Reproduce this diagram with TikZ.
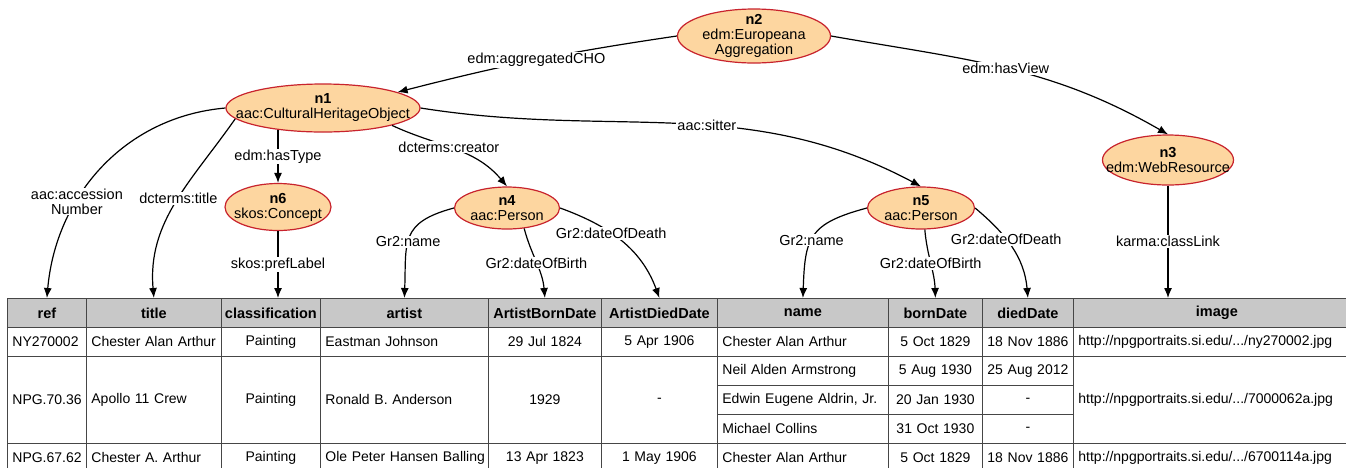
\documentclass[tikz,border=0pt]{standalone}
\usepackage{fontspec}
\setmainfont{Liberation Sans}
\usetikzlibrary{arrows.meta,shapes.geometric}

\definecolor{entfill}{RGB}{253,214,160}
\definecolor{entline}{RGB}{200,35,45}
\definecolor{headfill}{RGB}{200,200,200}
\definecolor{gridline}{RGB}{70,70,70}

\begin{document}
\begin{tikzpicture}[x=1pt, y=-1pt, font=\fontsize{14.5}{15}\selectfont,
	ent/.style={ellipse, draw=entline, fill=entfill, line width=1.2pt, align=center, inner xsep=-40pt, inner ysep=-12pt},
	link/.style={-{Latex[length=10pt,width=8pt]}, line width=1.2pt},
	lbl/.style={fill=white, inner sep=1pt, align=center},
	cell/.style={draw=gridline, line width=0.8pt, inner xsep=5pt, inner ysep=0pt, anchor=north west, font=\fontsize{14}{15}\selectfont},
	head/.style={cell, fill=headfill, inner xsep=1pt, font=\fontsize{14.5}{15}\selectfont\bfseries}]
	\useasboundingbox (0,0) rectangle (1346,467);
	\clip (0,0) rectangle (1346,467);

	% classes
	\node[ent, minimum width=194pt, minimum height=48pt] (n1) at (323,108) {\textbf{n1}\\aac:CulturalHeritageObject};
	\node[ent, minimum width=153pt, minimum height=54pt] (n2) at (754,36) {\textbf{n2}\\edm:Europeana\\Aggregation};
	\node[ent, minimum width=131pt, minimum height=50pt] (n3) at (1168,160) {\textbf{n3}\\edm:WebResource};
	\node[ent, minimum width=105pt, minimum height=42pt] (n4) at (507,208) {\textbf{n4}\\aac:Person};
	\node[ent, minimum width=107pt, minimum height=42pt] (n5) at (921,208) {\textbf{n5}\\aac:Person};
	\node[ent, minimum width=106pt, minimum height=47pt] (n6) at (278,207) {\textbf{n6}\\skos:Concept};

	% table header
	\foreach \n/\l/\r/\t in {ref/7/86/ref, title/86/221/title, class/221/320/classification, artist/320/488/artist, abd/488/601/ArtistBornDate, add/601/717/ArtistDiedDate, name/717/888/name, born/888/982/bornDate, died/982/1073/diedDate, image/1073/1360/image}
	{
		\pgfmathsetmacro\w{\r-\l}
		\node[head, minimum width=\w pt, minimum height=29pt] (h-\n) at (\l,298) {\t};
	}

	% table rows
	\foreach \l/\r/\t/\b/\a/\s in {
		7/86/327/356/left/NY270002, 86/221/327/356/left/Chester Alan Arthur, 221/320/327/356/center/Painting,
		320/488/327/356/left/Eastman Johnson, 488/601/327/356/center/29 Jul 1824, 601/717/327/356/center/5 Apr 1906,
		717/888/327/356/left/Chester Alan Arthur, 888/982/327/356/center/5 Oct 1829, 982/1073/327/356/center/18 Nov 1886,
		1073/1360/327/356/left/{http://npgportraits.si.edu/.../ny270002.jpg},
		7/86/356/443/left/NPG.70.36, 86/221/356/443/left/Apollo 11 Crew, 221/320/356/443/center/Painting,
		320/488/356/443/left/Ronald B. Anderson, 488/601/356/443/center/1929, 601/717/356/443/center/-,
		717/888/356/385/left/Neil Alden Armstrong, 888/982/356/385/center/5 Aug 1930, 982/1073/356/385/center/25 Aug 2012,
		717/888/385/414/left/{Edwin Eugene Aldrin, Jr.}, 888/982/385/414/center/20 Jan 1930, 982/1073/385/414/center/-,
		717/888/414/443/left/Michael Collins, 888/982/414/443/center/31 Oct 1930, 982/1073/414/443/center/-,
		1073/1360/356/443/left/{http://npgportraits.si.edu/.../7000062a.jpg},
		7/86/443/472/left/NPG.67.62, 86/221/443/472/left/Chester A. Arthur, 221/320/443/472/center/Painting,
		320/488/443/472/left/Ole Peter Hansen Balling, 488/601/443/472/center/13 Apr 1823, 601/717/443/472/center/1 May 1906,
		717/888/443/472/left/Chester Alan Arthur, 888/982/443/472/center/5 Oct 1829, 982/1073/443/472/center/18 Nov 1886,
		1073/1360/443/472/left/{http://npgportraits.si.edu/.../6700114a.jpg}}
	{
		\pgfmathsetmacro\w{\r-\l}
		\pgfmathsetmacro\h{\b-\t}
		\pgfmathsetmacro\tw{\r-\l-10}
		\node[cell, minimum width=\w pt, minimum height=\h pt, text width=\tw pt, align/.expanded=\a] (c-\l-\t) at (\l,\t) {\mbox{\s}};
	}

	% links between classes
	\draw[link] (n2.west) to[bend right=3] node[lbl] {edm:aggregatedCHO} (n1.12);
	\draw[link] (n2.east) to[out=-10, in=150] node[lbl] {edm:hasView} (n3.north);
	\draw[link] (n1.east) to[out=-9, in=152] node[lbl, pos=0.56] {aac:sitter} (n5.north);
	\draw[link] (n1.south east) to[out=-25, in=130] node[lbl, pos=0.45] {dcterms:creator} (n4.north);
	\draw[link] (n6 |- n1.-154) -- node[lbl] {edm:hasType} (n6.north);

	% links to columns
	\draw[link] (n1.west) to[out=185, in=85] node[lbl, pos=0.65] {aac:accession\\Number} (h-ref.north);
	\draw[link] (n1.-173) to[out=-125, in=95] node[lbl, pos=0.47] {dcterms:title} (h-title.north);
	\draw[link] (n6.south) -- node[lbl] {skos:prefLabel} (n6 |- h-class.north);
	\draw[link] (n4.west) to[out=195, in=88, looseness=1.4] node[lbl, pos=0.55] {Gr2:name} (h-artist.north);
	\draw[link] (n4.-50) to[out=-75, in=95] node[lbl] {Gr2:dateOfBirth} (h-abd.north);
	\draw[link] (n4.east) to[out=-20, in=110] node[lbl, pos=0.4] {Gr2:dateOfDeath} (h-add.north);
	\draw[link] (n5.west) to[out=195, in=88, looseness=1.4] node[lbl, pos=0.55] {Gr2:name} (h-name.north);
	\draw[link] (n5.-80) to[out=-85, in=92] node[lbl] {Gr2:dateOfBirth} (h-born.north);
	\draw[link] (n5.east) to[out=-40, in=95] node[lbl, pos=0.4] {Gr2:dateOfDeath} (h-died.north);
	\draw[link] (n3.south) -- node[lbl] {karma:classLink} (n3 |- h-image.north);
\end{tikzpicture}
\end{document}
